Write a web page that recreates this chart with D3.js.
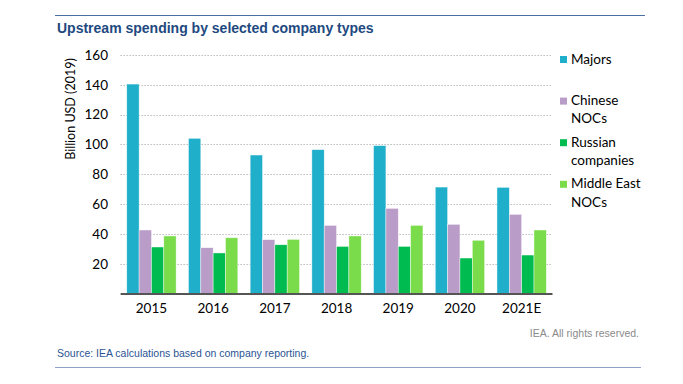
<!DOCTYPE html>
<html>
<head>
<meta charset="utf-8">
<script src="https://cdn.jsdelivr.net/npm/d3@7"></script>
<style>
  body { margin: 0; background: #fff; }
  svg { display: block; }
</style>
</head>
<body>
<svg id="chart" width="683" height="384"></svg>
<script>
// data (billion USD, 2019)
var years = ['2015', '2016', '2017', '2018', '2019', '2020', '2021E'];
var seriesNames = ['Majors', 'Chinese NOCs', 'Russian companies', 'Middle East NOCs'];
var majors = [140.5, 104.1, 92.9, 96.5, 99.2, 71.4, 71.2];
var chineseNocs = [42.6, 30.7, 36.1, 45.7, 57.1, 46.4, 53.1];
var russianCompanies = [31.2, 27.2, 32.7, 31.6, 31.6, 23.8, 25.8];
var middleEastNocs = [38.6, 37.4, 36.3, 38.6, 45.7, 35.7, 42.6];
var yTicks = [20, 40, 60, 80, 100, 120, 140, 160];
var legendLines = [['Majors'], ['Chinese', 'NOCs'], ['Russian', 'companies'], ['Middle East', 'NOCs']];

var colors = ['#1fafca', '#b99cc8', '#00bb50', '#7adc4b'];
var seriesValues = [majors, chineseNocs, russianCompanies, middleEastNocs];

var svg = d3.select('#chart');
// note: "top" is reserved on window, so plot edges get their own names
var plotLeft = 120.6, plotRight = 552.5, plotTop = 55, plotBottom = 293.5;
var chartFont = 'Lato, "Noto Sans", sans-serif';

// frame rules + title
svg.append('line')
   .attr('x1', 55).attr('x2', 645).attr('y1', 15.5).attr('y2', 15.5)
   .attr('stroke', '#4b6ea3').attr('stroke-width', 1.2);
svg.append('text')
   .attr('x', 57).attr('y', 33)
   .attr('font-family', '"Liberation Sans", Arial, sans-serif')
   .attr('font-weight', 'bold').attr('font-size', 14)
   .attr('fill', '#22497f')
   .text('Upstream spending by selected company types');

var x = d3.scaleBand().domain(years).range([plotLeft, plotRight])
   .paddingInner(0.2).paddingOuter(0.1);
var x1 = d3.scaleBand().domain(seriesNames).range([0, x.bandwidth()]);
var y = d3.scaleLinear().domain([0, 160]).range([plotBottom, plotTop]);

// dotted grid
svg.append('g').selectAll('line')
   .data(yTicks).enter().append('line')
   .attr('x1', plotLeft).attr('x2', plotRight)
   .attr('y1', function(d){ return Math.round(y(d)) + 0.5; })
   .attr('y2', function(d){ return Math.round(y(d)) + 0.5; })
   .attr('stroke', '#9a9a9a').attr('stroke-width', 1)
   .attr('stroke-dasharray', '1,2');

// bars
var groups = svg.append('g').selectAll('g')
   .data(years).enter().append('g')
   .attr('transform', function(d){ return 'translate(' + x(d) + ',0)'; });

groups.selectAll('rect')
   .data(function(d, i){
      return seriesNames.map(function(s, j){ return {name: s, value: seriesValues[j][i], idx: j}; });
   })
   .enter().append('rect')
   .attr('x', function(d){ return x1(d.name); })
   .attr('width', x1.bandwidth())
   .attr('y', function(d){ return y(d.value); })
   .attr('height', function(d){ return y(0) - y(d.value); })
   .attr('fill', function(d){ return colors[d.idx]; })
   .attr('stroke', '#ffffff').attr('stroke-width', 0.6).attr('stroke-opacity', 0.7);

// baseline
svg.append('line')
   .attr('x1', plotLeft).attr('x2', plotRight).attr('y1', plotBottom + 0.5).attr('y2', plotBottom + 0.5)
   .attr('stroke', '#555').attr('stroke-width', 2);

// y axis labels
var yAxis = svg.append('g')
   .attr('transform', 'translate(' + plotLeft + ',0)')
   .call(d3.axisLeft(y).tickValues(yTicks).tickSize(0).tickPadding(12.6));
yAxis.select('.domain').remove();
yAxis.selectAll('text')
   .attr('font-family', chartFont).attr('font-size', 13.5).attr('fill', '#000');

// x axis labels
var xAxis = svg.append('g')
   .attr('transform', 'translate(0,' + plotBottom + ')')
   .call(d3.axisBottom(x).tickSize(0).tickPadding(10));
xAxis.select('.domain').remove();
xAxis.selectAll('text')
   .attr('font-family', chartFont).attr('font-size', 13.5).attr('fill', '#000');

// axis title
svg.append('text')
   .attr('transform', 'translate(75,109) rotate(-90)')
   .attr('text-anchor', 'middle')
   .attr('font-family', chartFont).attr('font-size', 12.5).attr('fill', '#000')
   .text('Billion USD (2019)');

// legend
var legend = svg.append('g').selectAll('g')
   .data(seriesNames).enter().append('g')
   .attr('transform', function(d, i){ return 'translate(560,' + (56 + i * 41.6) + ')'; });
legend.append('rect')
   .attr('width', 7).attr('height', 7)
   .attr('fill', function(d, i){ return colors[i]; });
legend.each(function(d, i){
   var t = d3.select(this).append('text')
      .attr('font-family', chartFont).attr('font-size', 13.5).attr('fill', '#000');
   legendLines[i].forEach(function(line, k){
      t.append('tspan').attr('x', 11).attr('y', 7.5 + k * 18.4).text(line);
   });
});

// footer
svg.append('text')
   .attr('x', 639).attr('y', 336.5).attr('text-anchor', 'end')
   .attr('font-family', '"Liberation Sans", Arial, sans-serif')
   .attr('font-size', 10.5).attr('fill', '#8a8a8a')
   .text('IEA. All rights reserved.');
svg.append('text')
   .attr('x', 57).attr('y', 356.5)
   .attr('font-family', '"Liberation Sans", Arial, sans-serif')
   .attr('font-size', 10.5).attr('fill', '#2a5494')
   .text('Source: IEA calculations based on company reporting.');
svg.append('line')
   .attr('x1', 55).attr('x2', 641).attr('y1', 367.5).attr('y2', 367.5)
   .attr('stroke', '#8aa2c4').attr('stroke-width', 1.2);
</script>
</body>
</html>
